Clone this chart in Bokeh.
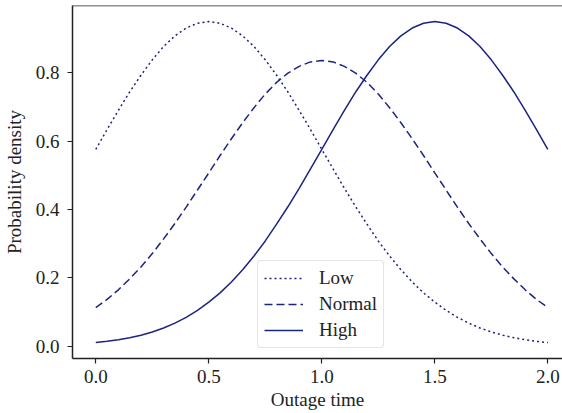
from bokeh.plotting import figure
from bokeh.models import FixedTicker, PrintfTickFormatter, Span, Legend, LegendItem, Range1d
from bokeh.embed import file_html
from bokeh.resources import INLINE

# x grid (outage time)
outage_time = [i * 0.05 for i in range(41)]

low = [0.576, 0.634, 0.690, 0.744, 0.793, 0.838, 0.877, 0.908, 0.931, 0.945,
       0.950, 0.945, 0.931, 0.908, 0.877, 0.838, 0.793, 0.744, 0.690, 0.634,
       0.576, 0.519, 0.462, 0.408, 0.357, 0.308, 0.264, 0.224, 0.188, 0.156,
       0.129, 0.105, 0.0845, 0.0675, 0.0533, 0.0417, 0.0323, 0.0248, 0.0188, 0.0142,
       0.0106]
normal = [0.113, 0.137, 0.165, 0.197, 0.232, 0.271, 0.314, 0.359, 0.407, 0.457,
          0.507, 0.558, 0.607, 0.654, 0.698, 0.738, 0.772, 0.799, 0.819, 0.832,
          0.836, 0.832, 0.819, 0.799, 0.772, 0.738, 0.698, 0.654, 0.607, 0.558,
          0.507, 0.457, 0.407, 0.359, 0.314, 0.271, 0.232, 0.197, 0.165, 0.137,
          0.113]
high = [0.0106, 0.0142, 0.0188, 0.0248, 0.0323, 0.0417, 0.0533, 0.0675, 0.0845, 0.105,
        0.129, 0.156, 0.188, 0.224, 0.264, 0.308, 0.357, 0.408, 0.462, 0.519,
        0.576, 0.634, 0.690, 0.744, 0.793, 0.838, 0.877, 0.908, 0.931, 0.945,
        0.950, 0.945, 0.931, 0.908, 0.877, 0.838, 0.793, 0.744, 0.690, 0.634,
        0.576]

series_names = ["Low", "Normal", "High"]
x_ticks = [0.0, 0.5, 1.0, 1.5, 2.0]
y_ticks = [0.0, 0.2, 0.4, 0.6, 0.8]

FONT = "Liberation Serif"
FS = "19px"
LINE_COLOR = "#1c2481"
AX_COLOR = "#222222"

y_top = 0.997
p = figure(width=562, height=413, output_backend="svg", toolbar_location=None,
           x_range=Range1d(-0.103, 2.065), y_range=Range1d(-0.036, y_top),
           min_border_left=71, min_border_right=0, min_border_top=5, min_border_bottom=55)
p.outline_line_color = None
p.grid.visible = False
p.background_fill_color = "white"
p.border_fill_color = "white"

r_low = p.line(outage_time, low, line_color=LINE_COLOR, line_width=1.5, line_dash="2 3")
r_norm = p.line(outage_time, normal, line_color=LINE_COLOR, line_width=1.5, line_dash="8 4")
r_high = p.line(outage_time, high, line_color=LINE_COLOR, line_width=1.5)

for ax in (p.xaxis[0], p.yaxis[0]):
    ax.axis_line_color = AX_COLOR
    ax.axis_line_width = 1.5
    ax.major_tick_line_color = AX_COLOR
    ax.major_tick_line_width = 1.2
    ax.major_tick_out = 5
    ax.major_tick_in = 0
    ax.minor_tick_out = 0
    ax.minor_tick_in = 0
    ax.major_label_text_font = FONT
    ax.major_label_text_font_size = FS
    ax.major_label_text_color = "#222222"
    ax.axis_label_text_font = FONT
    ax.axis_label_text_font_size = FS
    ax.axis_label_text_font_style = "normal"
    ax.axis_label_text_color = "#222222"
    ax.formatter = PrintfTickFormatter(format="%.1f")

p.xaxis.ticker = FixedTicker(ticks=x_ticks)
p.yaxis.ticker = FixedTicker(ticks=y_ticks)
p.xaxis.axis_label = "Outage time"
p.yaxis.axis_label = "Probability density"
p.xaxis.major_label_standoff = 6
p.yaxis.major_label_standoff = 8
p.xaxis.axis_label_standoff = 3
p.yaxis.axis_label_standoff = 8

top = Span(location=y_top, dimension="width", line_color=AX_COLOR, line_width=1.5)
p.add_layout(top)

legend = Legend(items=[LegendItem(label=series_names[0], renderers=[r_low]),
                       LegendItem(label=series_names[1], renderers=[r_norm]),
                       LegendItem(label=series_names[2], renderers=[r_high])],
                location=(185, 10))
legend.label_text_font = FONT
legend.label_text_font_size = FS
legend.label_text_color = "#222222"
legend.glyph_width = 39
legend.glyph_height = 20
legend.label_height = 20
legend.label_standoff = 16
legend.spacing = 4
legend.padding = 6
legend.margin = 0
legend.border_line_color = "#cccccc"
legend.border_line_width = 1
legend.border_radius = 4
legend.background_fill_color = "white"
legend.background_fill_alpha = 0.8
p.add_layout(legend)

open("out.html", "w").write(file_html(p, INLINE))
